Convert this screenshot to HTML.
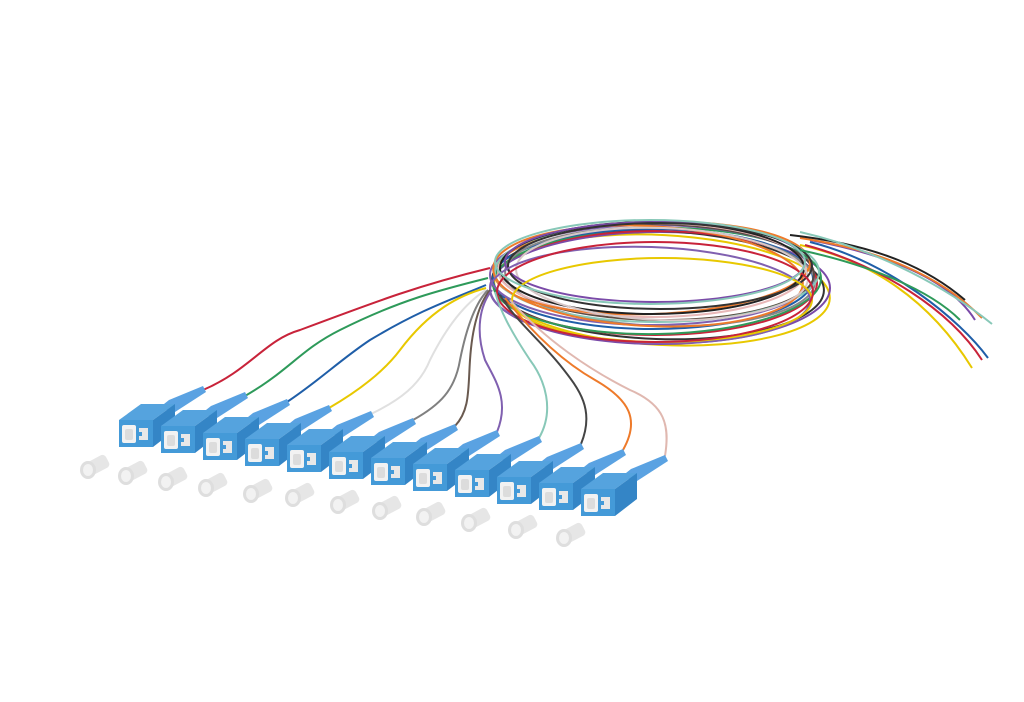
<!DOCTYPE html>
<html><head><meta charset="utf-8"><style>html,body{margin:0;padding:0;background:#fff;width:1024px;height:702px;overflow:hidden}</style></head>
<body>
<svg width="1024" height="702" viewBox="0 0 1024 702" xmlns="http://www.w3.org/2000/svg">
<defs>
<g id="con">
  <polygon points="40,-12 50,-20 84,-34 87,-28 56,-8" fill="#5aa2e2"/>
  <polygon points="0,0 34,0 56,-16 22,-16" fill="#55a3de"/>
  <polygon points="34,0 56,-16 56,10 34,27" fill="#3485c6"/>
  <rect x="0" y="0" width="34" height="27" fill="#449ad8"/>
  <rect x="3" y="5" width="14" height="18" rx="2" fill="#f2f2f2"/>
  <rect x="6" y="9" width="8" height="11" rx="2" fill="#dcdcdc"/>
  <rect x="20" y="8" width="9" height="12" fill="#e8e8e8"/>
  <rect x="20" y="12" width="3" height="4" fill="#449ad8"/>
</g>
<g id="cap">
  <rect x="0" y="-7" width="22" height="14" rx="4" fill="#e6e6e6" transform="rotate(-28)"/>
  <ellipse cx="0" cy="0" rx="8" ry="9" fill="#dedede"/>
  <ellipse cx="0" cy="0" rx="5" ry="6" fill="#f2f2f2"/>
</g>
</defs>
<g fill="none" stroke-width="2">
  <ellipse cx="662" cy="290" rx="168" ry="55" stroke="#e8c800" transform="rotate(3 662 290)"/>
  <ellipse cx="660" cy="288" rx="170" ry="56" stroke="#7a4aa8"/>
  <ellipse cx="658" cy="285" rx="166" ry="54" stroke="#333" transform="rotate(2 658 285)"/>
  <ellipse cx="655" cy="283" rx="162" ry="52" stroke="#c8233a"/>
  <ellipse cx="657" cy="281" rx="164" ry="53" stroke="#2e9a5a" transform="rotate(-1 657 281)"/>
  <ellipse cx="653" cy="279" rx="160" ry="50" stroke="#1f5ea8"/>
  <ellipse cx="660" cy="277" rx="155" ry="49" stroke="#888" transform="rotate(2 660 277)"/>
  <ellipse cx="652" cy="275" rx="162" ry="50" stroke="#8060b0"/>
  <ellipse cx="656" cy="272" rx="158" ry="48" stroke="#5a4a40" transform="rotate(1 656 272)"/>
  <ellipse cx="652" cy="270" rx="154" ry="47" stroke="#e8b8b8"/>
  <ellipse cx="652" cy="268" rx="158" ry="46" stroke="#ee7a2a" transform="rotate(-2 652 268)"/>
  <ellipse cx="657" cy="272" rx="162" ry="50" stroke="#88c8b8"/>
  <ellipse cx="648" cy="276" rx="155" ry="50" stroke="#ee7a2a" transform="rotate(3 648 276)"/>
  <ellipse cx="652" cy="268" rx="152" ry="46" stroke="#222"/>
  <ellipse cx="662" cy="274" rx="146" ry="46" stroke="#d8c8c8" transform="rotate(2 662 274)"/>
  <ellipse cx="655" cy="262" rx="150" ry="40" stroke="#7a4aa8"/>
  <ellipse cx="660" cy="266" rx="152" ry="43" stroke="#333"/>
  <ellipse cx="650" cy="295" rx="160" ry="48" stroke="#8060b0" transform="rotate(2 650 295)"/>
  <ellipse cx="662" cy="300" rx="150" ry="42" stroke="#e8c800"/>
  <ellipse cx="655" cy="292" rx="158" ry="50" stroke="#c8233a"/>
  <ellipse cx="650" cy="262" rx="155" ry="42" stroke="#88c8b8"/>
  <!-- loose ends -->
  <path d="M800 245 C870 260 930 300 972 368" stroke="#e8c800"/>
  <path d="M805 245 C880 265 950 310 982 360" stroke="#c8233a"/>
  <path d="M810 242 C890 262 960 320 988 358" stroke="#1f5ea8"/>
  <path d="M810 240 C890 255 950 280 975 320" stroke="#7a4aa8"/>
  <path d="M800 238 C880 250 940 275 982 318" stroke="#ee7a2a"/>
  <path d="M790 235 C880 245 930 270 965 300" stroke="#222"/>
  <path d="M800 232 C880 250 950 290 992 324" stroke="#88c8b8"/>
  <path d="M800 250 C870 265 930 290 960 320" stroke="#2e9a5a"/>
</g>
<g fill="none" stroke-width="2">
  <path d="M203 390 C250 370 265 340 300 330 C380 300 420 285 490 268" stroke="#c8233a"/>
  <path d="M245 396 C290 370 300 350 340 330 C400 300 440 290 488 278" stroke="#2e9a5a"/>
  <path d="M287 402 C320 380 340 360 370 340 C420 310 450 300 486 285" stroke="#1f5ea8"/>
  <path d="M329 408 C360 390 385 370 400 350 C430 310 460 295 486 288" stroke="#e8c800"/>
  <path d="M371 414 C400 400 420 385 430 360 C450 320 470 300 486 290" stroke="#e0e0e0"/>
  <path d="M413 420 C440 405 455 390 460 360 C468 320 478 300 488 290" stroke="#808080"/>
  <path d="M455 426 C470 410 468 390 470 360 C472 330 478 305 490 290" stroke="#6a5a50"/>
  <path d="M497 432 C510 400 495 380 485 360 C475 330 480 305 492 290" stroke="#8060b0"/>
  <path d="M539 438 C555 410 545 380 530 360 C510 330 500 310 495 292" stroke="#88c8b8"/>
  <path d="M581 444 C595 410 580 390 560 365 C540 340 515 320 500 295" stroke="#444"/>
  <path d="M623 450 C640 420 630 400 595 380 C560 360 530 330 505 298" stroke="#ee7a2a"/>
  <path d="M665 456 C670 425 665 405 630 390 C590 370 545 340 510 300" stroke="#e0b8b0"/>
</g>
<g>
  <use href="#con" x="119" y="420"/><use href="#con" x="161" y="426"/>
  <use href="#con" x="203" y="433"/><use href="#con" x="245" y="439"/>
  <use href="#con" x="287" y="445"/><use href="#con" x="329" y="452"/>
  <use href="#con" x="371" y="458"/><use href="#con" x="413" y="464"/>
  <use href="#con" x="455" y="470"/><use href="#con" x="497" y="477"/>
  <use href="#con" x="539" y="483"/><use href="#con" x="581" y="489"/>
</g>
<g>
  <use href="#cap" x="88" y="470"/><use href="#cap" x="126" y="476"/>
  <use href="#cap" x="166" y="482"/><use href="#cap" x="206" y="488"/>
  <use href="#cap" x="251" y="494"/><use href="#cap" x="293" y="498"/>
  <use href="#cap" x="338" y="505"/><use href="#cap" x="380" y="511"/>
  <use href="#cap" x="424" y="517"/><use href="#cap" x="469" y="523"/>
  <use href="#cap" x="516" y="530"/><use href="#cap" x="564" y="538"/>
</g>
</svg>
</body></html>
